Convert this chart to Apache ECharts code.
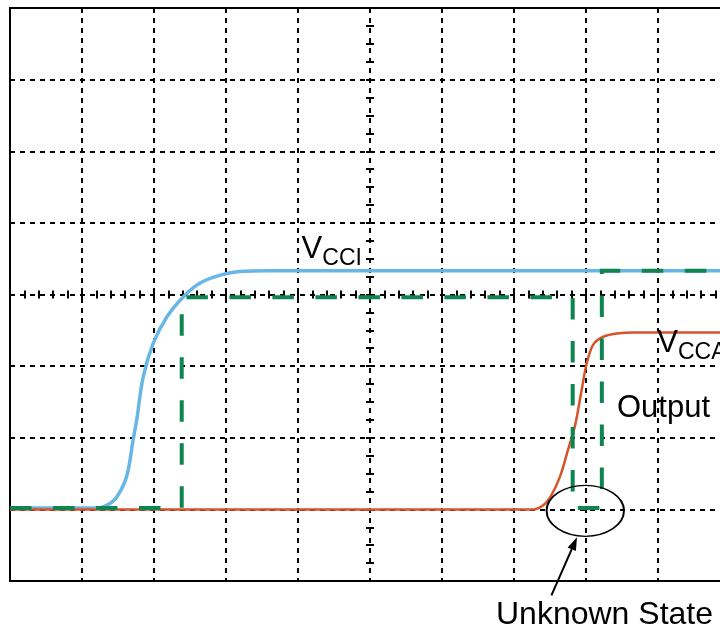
<!DOCTYPE html>
<html><head><meta charset="utf-8">
<script src="https://cdn.jsdelivr.net/npm/echarts@6/dist/echarts.min.js"></script>
<style>html,body{margin:0;padding:0;background:#fff;overflow:hidden}#c{width:732px;height:630px}</style>
</head><body><div id="c"></div>
<script>
// Data in graticule divisions (x: 0..10, y: 0..8)
const vcciX = [0, 1.22, 1.35, 1.48, 1.62, 1.71, 1.76, 1.85, 1.99, 2.18, 2.41, 2.64, 2.92, 3.19, 3.6, 10];
const vcciY = [1.02, 1.02, 1.06, 1.17, 1.46, 1.97, 2.25, 2.85, 3.32, 3.69, 3.97, 4.16, 4.27, 4.32, 4.33, 4.33];
const vccaX = [0, 7.22, 7.27, 7.41, 7.52, 7.64, 7.75, 7.85, 7.94, 8.01, 8.10, 8.24, 8.47, 8.65, 10];
const vccaY = [1.0, 1.0, 1.0, 1.06, 1.20, 1.46, 1.83, 2.18, 2.67, 3.04, 3.30, 3.41, 3.46, 3.47, 3.47];
const outX = [0, 2.385, 2.385, 7.815, 7.815, 8.22, 8.22, 10];
const outY = [1.02, 1.02, 3.96, 3.96, 1.02, 1.02, 4.33, 4.33];
const labelVcci = {main: 'V', sub: 'CCI', at: [4.05, 4.48]};
const labelVcca = {main: 'V', sub: 'CCA', at: [8.99, 3.16]};
const labelOutput = {text: 'Output', at: [8.43, 2.25]};
const unknownEllipse = [7.99, 0.98];
const arrowTail = [7.52, -0.2];
const arrowTip = [7.875, 0.61];
const unknownText = {text: 'Unknown State', at: [8.257, -0.478]};

const zip = (a, b) => a.map((v, i) => [v, b[i]]);
const FONT = '"Liberation Sans", Arial, Helvetica, sans-serif';
const chart = echarts.init(document.getElementById('c'), null, {renderer: 'canvas'});
const gridLine = {show: true, lineStyle: {color: '#000', width: 2, type: [5, 5]}};
const hidden = {show: false};
const tickStyle = {color: '#000', width: 2};
function centerAxis(extra) {
  return Object.assign({
    type: 'value', min: 0, max: 10, interval: 1, gridIndex: 0,
    axisLine: hidden, axisLabel: hidden, splitLine: hidden,
  }, extra);
}
chart.setOption({
  animation: false,
  backgroundColor: '#fff',
  grid: {left: 10, top: 8, right: 2, bottom: 49, show: true, borderColor: '#000', borderWidth: 2, backgroundColor: 'transparent'},
  xAxis: [
    {type: 'value', min: 0, max: 10, interval: 1, axisLine: hidden, axisTick: hidden, axisLabel: hidden, splitLine: gridLine},
    centerAxis({position: 'bottom', offset: -286.5, axisTick: {show: true, inside: false, length: 4, lineStyle: tickStyle},
      minorTick: {show: true, splitNumber: 5, length: 4, lineStyle: tickStyle}}),
    centerAxis({position: 'bottom', offset: -286.5, axisTick: {show: true, inside: true, length: 4, lineStyle: tickStyle},
      minorTick: {show: true, splitNumber: 5, length: 4, lineStyle: tickStyle}})
  ],
  yAxis: [
    {type: 'value', min: 0, max: 8, interval: 1, axisLine: hidden, axisTick: hidden, axisLabel: hidden, splitLine: gridLine},
    Object.assign(centerAxis({position: 'left', offset: -360, axisTick: {show: true, inside: false, length: 4, lineStyle: tickStyle},
      minorTick: {show: true, splitNumber: 4, length: 4, lineStyle: tickStyle}}), {max: 8}),
    Object.assign(centerAxis({position: 'left', offset: -360, axisTick: {show: true, inside: true, length: 4, lineStyle: tickStyle},
      minorTick: {show: true, splitNumber: 4, length: 4, lineStyle: tickStyle}}), {max: 8})
  ],
  series: [
    {type: 'line', name: 'VCCI', data: zip(vcciX, vcciY), smooth: 0.35, showSymbol: false, symbol: 'none',
      lineStyle: {color: '#68b6e6', width: 3.5}, z: 3},
    {type: 'line', name: 'VCCA', data: zip(vccaX, vccaY), smooth: 0.3, showSymbol: false, symbol: 'none',
      lineStyle: {color: '#d6532c', width: 2.5}, z: 4},
    {type: 'line', name: 'Output', data: zip(outX, outY), showSymbol: false, symbol: 'none',
      lineStyle: {color: '#0e8450', width: 4, type: [21.5, 21.5], cap: 'butt', join: 'miter'}, z: 5}
  ]
});

const px = p => chart.convertToPixel({gridIndex: 0}, p);
function sublabel(l, id) {
  const p = px(l.at);
  const vw = 0.667 * 31;
  return [
    {type: 'text', id: id + 'm', x: p[0], y: p[1] - 10.9, z: 20,
      style: {text: l.main, font: '31px ' + FONT, fill: '#000', align: 'left', verticalAlign: 'middle'}},
    {type: 'text', id: id + 's', x: p[0] + vw, y: p[1] + 6.5 - 8.1, z: 20,
      style: {text: l.sub, font: '23px ' + FONT, fill: '#000', align: 'left', verticalAlign: 'middle'}}
  ];
}
const e = px(unknownEllipse);
const t = px(arrowTail), h = px(arrowTip);
const dx = h[0] - t[0], dy = h[1] - t[1], len = Math.hypot(dx, dy);
const ux = dx / len, uy = dy / len;
const bx = h[0] - 13 * ux, by = h[1] - 13 * uy;
const op = px(labelOutput.at);
const ut = px(unknownText.at);
chart.setOption({
  graphic: [
    ...sublabel(labelVcci, 'vcci'),
    ...sublabel(labelVcca, 'vcca'),
    {type: 'text', x: op[0], y: op[1] - 10.9, z: 20,
      style: {text: labelOutput.text, font: '31px ' + FONT, fill: '#000', align: 'left', verticalAlign: 'middle'}},
    {type: 'circle', x: e[0], y: e[1], scaleY: 25.5 / 38.7, z: 20,
      shape: {cx: 0, cy: 0, r: 38.7}, style: {fill: null, stroke: '#000', lineWidth: 2, strokeNoScale: true}},
    {type: 'line', z: 20, shape: {x1: t[0], y1: t[1], x2: bx, y2: by}, style: {stroke: '#000', lineWidth: 2}},
    {type: 'polygon', z: 20, shape: {points: [[h[0], h[1]], [bx + 4.5 * uy, by - 4.5 * ux], [bx - 4.5 * uy, by + 4.5 * ux]]},
      style: {fill: '#000'}},
    {type: 'text', x: ut[0], y: ut[1], z: 20,
      style: {text: unknownText.text, font: '32px ' + FONT, fill: '#000', align: 'center', verticalAlign: 'middle'}}
  ]
});
</script></body></html>
